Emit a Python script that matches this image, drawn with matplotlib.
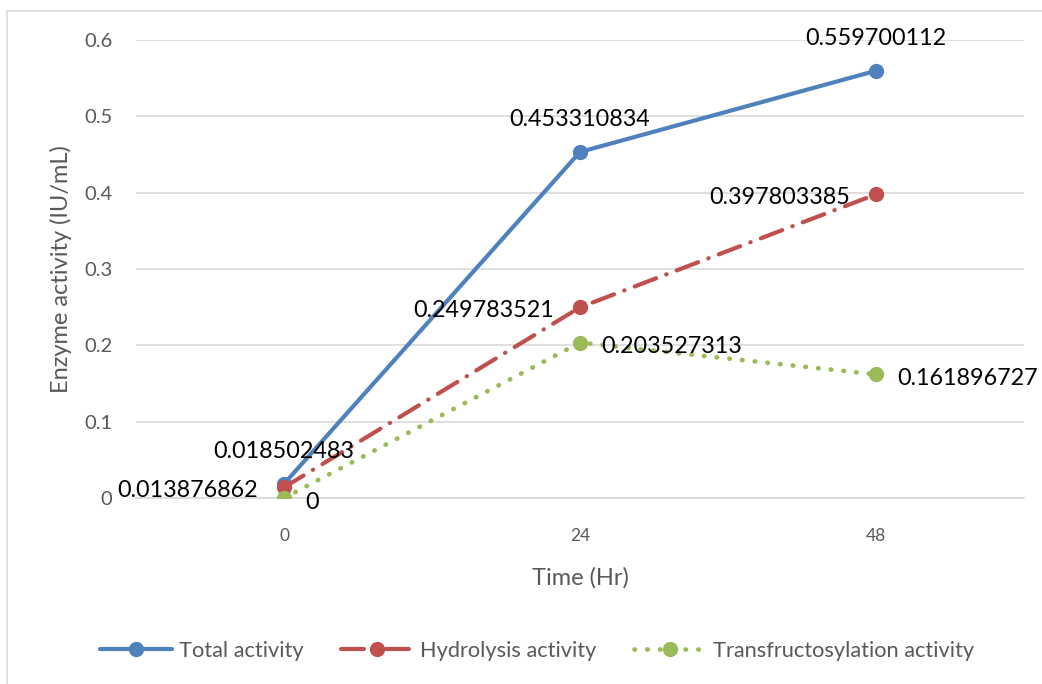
import matplotlib
matplotlib.use("Agg")
import matplotlib.pyplot as plt
from matplotlib.patches import Rectangle

plt.rcParams['font.family'] = ['Lato', 'DejaVu Sans']

# Data
time_labels = ["0", "24", "48"]
total_activity = [0.018502483, 0.453310834, 0.559700112]
hydrolysis_activity = [0.013876862, 0.249783521, 0.397803385]
transfructosylation_activity = [0, 0.203527313, 0.161896727]
series_names = ["Total activity", "Hydrolysis activity", "Transfructosylation activity"]
y_ticks = [0, 0.1, 0.2, 0.3, 0.4, 0.5, 0.6]
y_tick_labels = ["0", "0.1", "0.2", "0.3", "0.4", "0.5", "0.6"]

BLUE = "#4F81BD"
RED = "#C0504D"
GREEN = "#9BBB59"
GREY_TEXT = "#595959"


def fmt(v):
    return "0" if v == 0 else f"{v:.9f}".rstrip("0")


fig = plt.figure(figsize=(10.42, 6.84), dpi=100)
fig.patches.append(Rectangle((7 / 1042, -0.1), 1.2, (684 - 11) / 684 + 0.1,
                             transform=fig.transFigure, fill=False,
                             edgecolor="#D9D9D9", linewidth=1.2))

ax = fig.add_axes([136 / 1042, 1 - 498 / 684, (1024 - 136) / 1042, (498 - 40) / 684])
x = list(range(len(time_labels)))

ax.plot(x, total_activity, color=BLUE, linewidth=3.0, marker="o",
        markersize=10, solid_capstyle="round", label=series_names[0], zorder=3)
ax.plot(x, hydrolysis_activity, color=RED, linewidth=3.0, marker="o",
        markersize=10, dashes=(5.5, 2.6, 0.1, 2.6), dash_capstyle="round",
        label=series_names[1], zorder=3)
ax.plot(x, transfructosylation_activity, color=GREEN, linewidth=3.4, marker="o",
        markersize=10, dashes=(0.1, 2.6), dash_capstyle="round",
        label=series_names[2], zorder=3)

lab_kw = dict(fontsize=16.8, color="black", zorder=4)
for xi, v in zip(x, total_activity):
    ax.annotate(fmt(v), (xi, v), xytext=(0, 24.5), textcoords="offset points",
                ha="center", va="center_baseline", **lab_kw)
for xi, v in zip(x, hydrolysis_activity):
    ax.annotate(fmt(v), (xi, v), xytext=(-18.5, -1), textcoords="offset points",
                ha="right", va="center_baseline", **lab_kw)
for xi, v in zip(x, transfructosylation_activity):
    ax.annotate(fmt(v), (xi, v), xytext=(15.5, -1.5), textcoords="offset points",
                ha="left", va="center_baseline", **lab_kw)

ax.set_xlim(-0.5, len(time_labels) - 0.5)
ax.set_ylim(0, 0.6)
ax.set_xticks(x)
ax.set_xticklabels(time_labels)
ax.set_yticks(y_ticks)
ax.set_yticklabels(y_tick_labels)
ax.tick_params(axis="both", length=0, labelcolor=GREY_TEXT)
ax.tick_params(axis="x", labelsize=12.5, pad=21.5)
ax.tick_params(axis="y", labelsize=14.5, pad=17)
ax.grid(axis="y", color="#D9D9D9", linewidth=1.2)
ax.set_axisbelow(True)
for s in ["top", "right", "left"]:
    ax.spines[s].set_visible(False)
ax.spines["bottom"].set_color("#D9D9D9")
ax.spines["bottom"].set_linewidth(1.2)

ax.set_xlabel("Time (Hr)", fontsize=17, color=GREY_TEXT)
ax.xaxis.set_label_coords(0.5, -(567 - 498) / 458)
ax.set_ylabel("Enzyme activity (IU/mL)", fontsize=17, color=GREY_TEXT)
ax.yaxis.set_label_coords(-(136 - 72) / 888, 0.5)

fig.legend(loc="center", bbox_to_anchor=(537 / 1042, 1 - 651 / 684), ncol=3,
           frameon=False, fontsize=15.7, labelcolor=GREY_TEXT,
           handlelength=3.3, handletextpad=0.3, columnspacing=1.75)

fig.savefig("out.png", dpi=100)
